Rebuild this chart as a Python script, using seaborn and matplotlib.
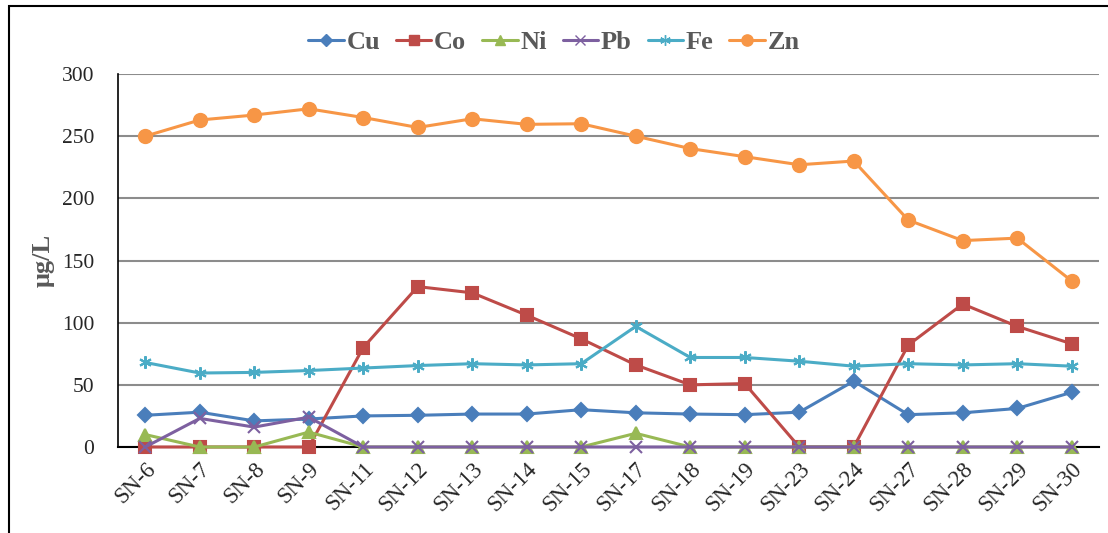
import matplotlib
matplotlib.use("Agg")
import matplotlib.pyplot as plt
from matplotlib.lines import Line2D
from matplotlib.patches import Rectangle
import pandas as pd
import seaborn as sns

samples = ["SN-6", "SN-7", "SN-8", "SN-9", "SN-11", "SN-12", "SN-13", "SN-14", "SN-15",
           "SN-17", "SN-18", "SN-19", "SN-23", "SN-24", "SN-27", "SN-28", "SN-29", "SN-30"]
cu = [25.5, 28, 21, 22.5, 25, 25.5, 26.5, 26.5, 30, 27.5, 26.5, 26, 28, 53, 26, 27.5, 31, 44]
co = [0, 0, 0, 0, 80, 129, 124, 106, 87, 66, 50, 51, 0, 0, 82, 115, 97, 83]
ni = [10, 0, 0, 12, 0, 0, 0, 0, 0, 11, 0, 0, 0, 0, 0, 0, 0, 0]
pb = [0, 23, 16, 24, 0, 0, 0, 0, 0, 0, 0, 0, 0, 0, 0, 0, 0, 0]
fe = [68, 59.5, 60, 61.5, 63.5, 65.5, 67, 66, 67, 97, 72, 72, 69, 65, 67, 66, 67, 65]
zn = [250, 263, 267, 272, 265, 257, 264, 259.5, 260, 250, 240, 233.5, 227, 230, 182.5, 166, 168, 133.5]

series = {"Cu": cu, "Co": co, "Ni": ni, "Pb": pb, "Fe": fe, "Zn": zn}
colors = {"Cu": "#4A7EBB", "Co": "#BE4B48", "Ni": "#98B954",
          "Pb": "#7D60A0", "Fe": "#4BACC6", "Zn": "#F79646"}
markers = {"Cu": "D", "Co": "s", "Ni": "^", "Pb": "x", "Fe": (6, 2, 0), "Zn": "o"}
msizes = {"Cu": 7, "Co": 8.5, "Ni": 8, "Pb": 8, "Fe": 9, "Zn": 9.5}


def main():
    sns.set_style("white")
    plt.rcParams['font.family'] = ['Liberation Serif', 'DejaVu Serif']

    rows = []
    for name, vals in series.items():
        for s, v in zip(samples, vals):
            rows.append({"sample": s, "element": name, "value": v})
    df = pd.DataFrame(rows)

    fig = plt.figure(figsize=(11.08, 5.33), dpi=100)
    ax = fig.add_axes([118 / 1108, 1 - 447 / 533, (1099 - 118) / 1108, (447 - 74) / 533])

    for name in series:
        sub = df[df["element"] == name]
        sns.lineplot(data=sub, x="sample", y="value", color=colors[name], marker=markers[name],
                     markersize=msizes[name], linewidth=2.2, sort=False, ax=ax, zorder=3)
        line = ax.lines[-1]
        line.set_markeredgecolor(colors[name])
        line.set_markerfacecolor(colors[name])
        line.set_markeredgewidth(1.5)
        line.set_clip_on(False)

    ax.set_xlim(-0.5, len(samples) - 0.5)
    ax.set_ylim(0, 300)
    ax.set_yticks(range(0, 301, 50))
    ax.yaxis.grid(True, color="#8C8C8C", linewidth=1.5)
    ax.set_axisbelow(True)
    for side in ["top", "right"]:
        ax.spines[side].set_visible(False)
    ax.spines["left"].set_color("black")
    ax.spines["bottom"].set_color("black")
    ax.spines["left"].set_linewidth(1.2)
    ax.spines["bottom"].set_linewidth(1.5)
    ax.tick_params(axis="both", length=0)
    ax.tick_params(axis="y", pad=17, labelsize=15.5)
    ax.tick_params(axis="x", pad=8, labelsize=16.5)
    plt.setp(ax.get_xticklabels(), rotation=45, ha="right", rotation_mode="anchor")
    ax.set_xlabel("")
    ax.set_ylabel("μg/L", fontsize=19, fontweight="bold", color="#595959", labelpad=5)

    handles = [Line2D([], [], color=colors[n], marker=markers[n], markersize=msizes[n] * 0.85,
                      markeredgecolor=colors[n], linewidth=2.2) for n in series]
    fig.legend(handles, list(series.keys()), loc="center", bbox_to_anchor=(0.5, 1 - 42 / 533),
               ncol=6, frameon=False, handlelength=1.35, columnspacing=0.6, handletextpad=0.1,
               prop={"family": "Liberation Serif", "weight": "bold", "size": 19},
               labelcolor="#595959")

    fig.patches.append(Rectangle((9 / 1108, -0.1), 1.2, 1.1 - 6 / 533, transform=fig.transFigure,
                                 fill=False, edgecolor="black", linewidth=1.5))

    fig.savefig("out.png", dpi=100)


if __name__ == "__main__":
    main()
